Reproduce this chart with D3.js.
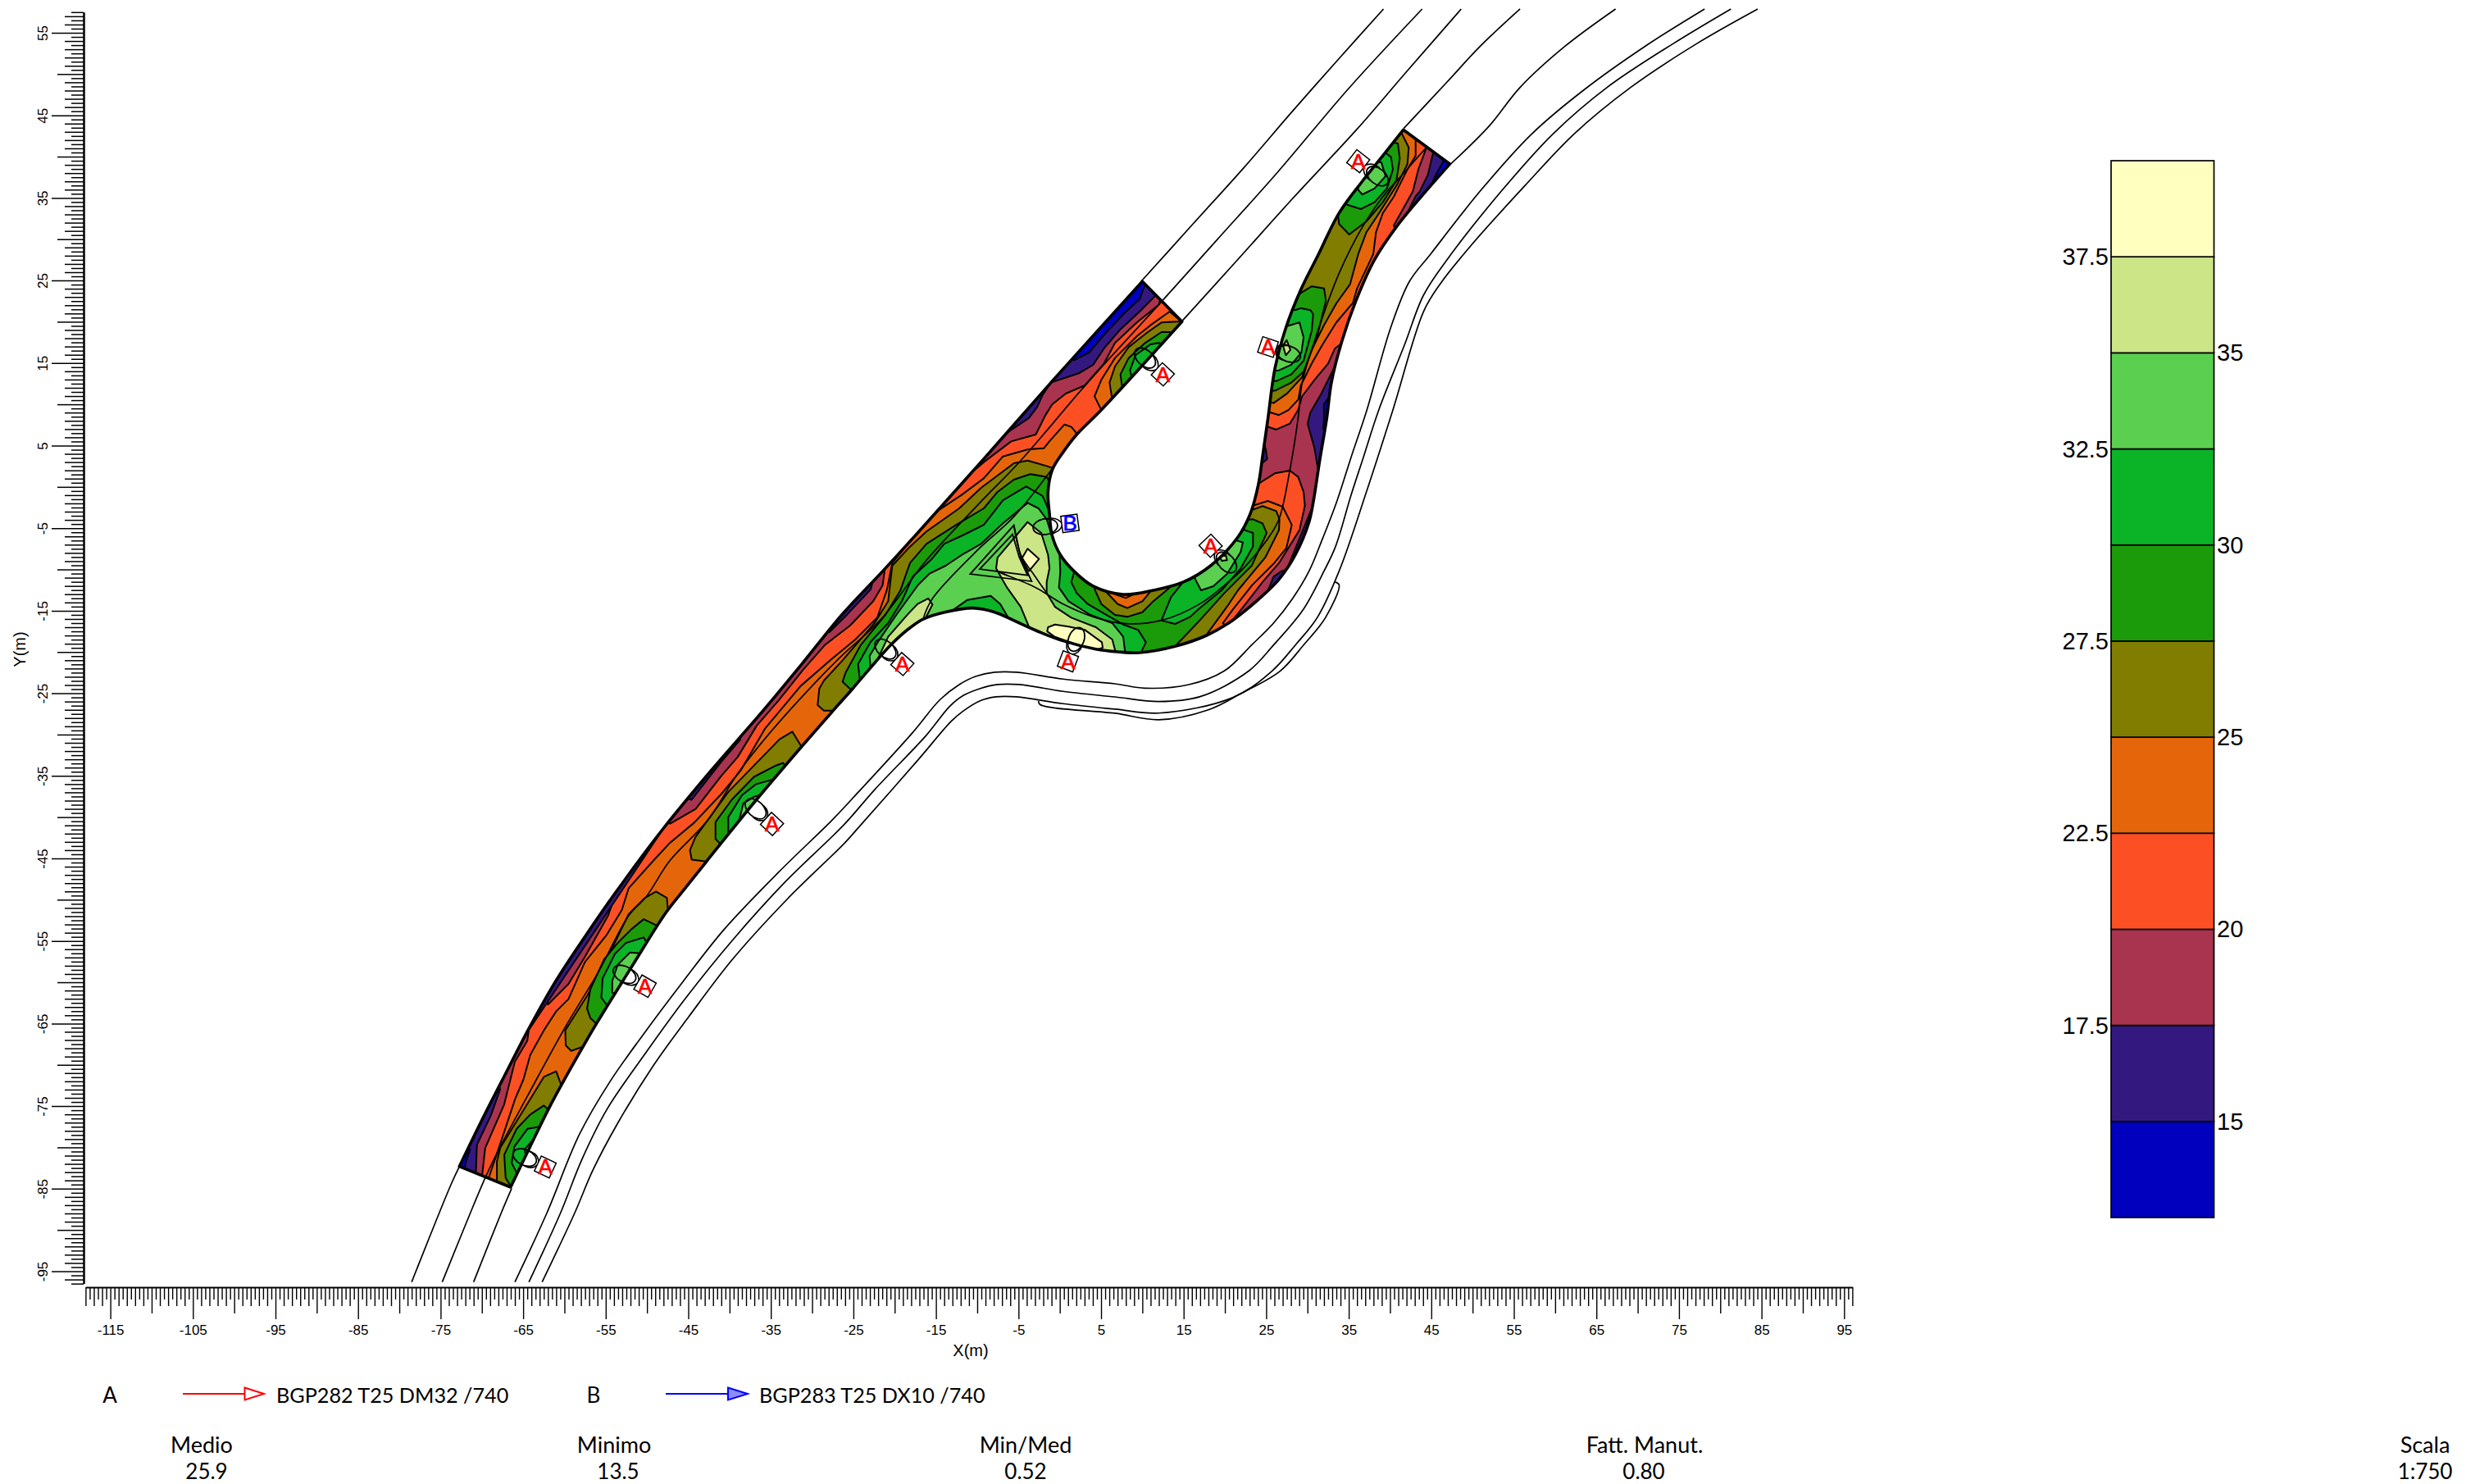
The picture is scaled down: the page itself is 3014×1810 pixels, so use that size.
<!DOCTYPE html>
<html>
<head>
<meta charset="utf-8">
<script src="https://cdn.jsdelivr.net/npm/d3@7/dist/d3.min.js"></script>
<style>
  html, body { margin: 0; padding: 0; background: #fff; }
  svg { display: block; }
</style>
</head>
<body>
<svg id="chart" width="3014" height="1810"></svg>
<script>
// colour scale
const levels = [12.5, 15, 17.5, 20, 22.5, 25, 27.5, 30, 32.5, 35, 37.5, 40];
const colors = ['#0000BE', '#33197F', '#A8344F', '#FC5024', '#E5660A', '#807D00', '#1B9A0A', '#0BB327', '#5ACF50', '#CBE587', '#FFFFC0'];
const leftLabels = [37.5, 32.5, 27.5, 22.5, 17.5];
const rightLabels = [35, 30, 25, 20, 15];

// road surface edges, X(m), Y(m)
const edgeLeft = [[-72.73,-82.31],[-70.1,-76.9],[-67.63,-72.05],[-64.3,-65.6],[-60.98,-59.74],[-57.4,-54.3],[-53.89,-49.25],[-48.12,-41.5],[-42.1,-34.2],[-36.16,-27.37],[-31.2,-21.4],[-26.41,-15.51],[-21.45,-10.21],[-17.15,-5.5],[-9.2,3.4],[-0.92,12.8],[10,24.88]];
const edgeInner = [[14.8,20.01],[5.03,9.32],[2.05,6.34],[0.4,4.19],[-0.92,2.04],[-1.42,-0.61],[-1.25,-3.26],[-0.92,-5.91],[0.07,-8.23],[1.72,-10.21],[4.04,-12.03],[7.68,-13.03],[11.32,-12.53],[14.96,-11.53],[18.27,-9.55],[21.58,-6.07],[23.07,-3.26],[24.07,0.38],[24.56,3.69],[25.22,8.33],[26.05,14.29],[27.38,19.25],[29.2,23.89],[31.18,27.86],[33.83,33.16],[36.48,36.8],[39.13,40.11],[41.61,43.25]];
const edgeOuter = [[47.24,39.11],[43.76,35.14],[40.78,31.5],[38.13,27.53],[35.88,22.56],[34.16,17.6],[32.9,12.63],[32.34,8.33],[31.51,3.36],[30.69,-1.93],[30.19,-4.25],[28.53,-8.22],[26.55,-11.2],[24.56,-13.19],[20.92,-16.17],[17.78,-17.99],[13.97,-19.31],[9.67,-20.08],[7.02,-19.98],[4.37,-19.65],[0.4,-18.65],[-2.25,-17.66],[-5.23,-16.34],[-7.87,-15.18],[-10.52,-14.68],[-13.84,-15.17],[-16.49,-16],[-18.47,-17.32],[-20.46,-19.14],[-23.11,-22.12],[-25.09,-24.44],[-27.29,-26.91],[-31.28,-31.47],[-37,-38.2],[-42.8,-45.38],[-45.2,-48.4],[-47.68,-51.53],[-51.9,-58.2],[-56.1,-64.98],[-59,-70],[-61.87,-75.25],[-64.2,-80],[-66.52,-84.82]];

// lane and kerb lines
const laneLines = [
  [[-78.5,-96.3],[-73.74,-84.5],[-72.75,-82.38]],
  [[-74.8,-96.3],[-71.42,-88],[-69.6,-83.7],[-68.11,-80.56],[-64.47,-73.77],[-59.84,-65.33],[-55.86,-58.71],[-52.22,-51.93],[-50.07,-49.61],[-47.26,-45.3],[-42.62,-40.34],[-38.99,-34.7],[-35.35,-30.07],[-29.06,-23.12],[-26.08,-20.14],[-21.78,-16.17],[-16.15,-8.89],[-9.69,-1.94],[-4.73,3.19],[3.38,12.63],[11.99,22.06],[18.97,29.84],[26.39,38.12],[34.94,48.2],[43.89,57.88]],
  [[-71,-96.3],[-67.68,-88],[-66.39,-84.96]],
  [[-66,-96.3],[-62.15,-88],[-58.18,-78.41],[-54.54,-72.12],[-50.57,-66.49],[-45.6,-59.87],[-40.64,-53.58],[-34.02,-46.63],[-27.56,-40.34],[-24.43,-37],[-17.81,-29.74],[-14.5,-25.76],[-12.18,-23.94],[-10.2,-22.95],[-7.88,-22.45],[-5.23,-22.45],[0.4,-23.28],[6.69,-23.85],[10.33,-24.38],[15.63,-23.95],[19.93,-22.29],[23.24,-19.15],[25.89,-16.5],[28.2,-13.52],[30.19,-10.21],[31.84,-6.24],[33.5,-1.93],[35.32,3.69],[37.2,9.32],[40.07,19.25],[42.35,24.88],[44.91,28.19],[50.9,35.8],[57.17,42.75],[63.44,48.05],[70.86,53.34],[78.1,57.88]],
  [[-64.3,-96.3],[-60.5,-88],[-57.85,-81.39],[-54.87,-75.43],[-50.57,-69.14],[-45.27,-61.86],[-39.64,-54.9],[-33.36,-47.95],[-26.07,-40.84],[-22.44,-36.69],[-16.15,-30.07],[-13.34,-26.59],[-11.69,-25.27],[-9.7,-24.44],[-7.55,-23.94],[-4.9,-23.94],[0.4,-24.77],[6.69,-25.44],[12,-26],[17,-25.4],[22.9,-22.29],[25.9,-19.15],[29.5,-14.84],[32,-10.21],[33.4,-7.23],[35.3,-0.94],[36.81,3.69],[38.64,9.32],[41.78,17.26],[44.06,23.22],[46.91,27.52],[53.47,35.8],[59.74,42.75],[66.29,48.38],[74.28,53.67],[81.29,57.88]],
  [[-62.7,-96.3],[-58.78,-88],[-56.53,-82.71],[-53.55,-77.08],[-49.25,-70.13],[-44.94,-64.17],[-39.64,-57.22],[-33.02,-49.94],[-26.07,-43.15],[-24.43,-41.32],[-17.15,-33.05],[-13.17,-28.41],[-11.85,-27.26],[-9.7,-25.93],[-7.71,-25.43],[-5.23,-25.43],[0.4,-26.26],[6.69,-26.92],[12,-27.4],[21,-25.5],[25.72,-22.29],[28.54,-19.15],[31.18,-15.84],[33.83,-10.21],[37.14,-0.61],[40.35,9.32],[44.06,21.23],[46.05,24.54],[49.76,29.18],[56.32,36.46],[62.3,42.75],[69.14,48.38],[77.13,53.67],[84.54,57.88]],
  [[-2.58,-25.93],[-2.4,-26.36],[6.69,-27.42],[12,-28.2],[18,-27],[22,-25],[26.71,-22.29],[29.53,-19.15],[32.18,-15.84],[33.83,-11.87],[33.33,-11.53]],
  [[9.85,24.88],[16.12,31.83],[22.4,38.78],[28.1,45.4],[33.51,51.52],[39.21,57.88]],
  [[14.81,20.08],[21.25,27.19],[28.1,34.81],[36.08,43.41],[41.78,50.03],[48.62,57.88]],
  [[41.66,43.41],[46.91,49.04],[50.9,53.34],[55.75,57.88]],
  [[47.36,39.11],[52.04,43.74],[55.75,48.38],[61.16,53.34],[67.32,57.88]],
  [[-7.71,-10.15],[-7.21,-10.38],[-2.91,-12.2],[0.4,-14.19],[4.37,-15.84],[8.01,-16.57],[12.32,-16.17],[16.95,-14.18],[20.59,-11.37],[21.91,-10.21],[25.22,-6.24],[26.55,-3.92],[27.87,2.04],[28.87,8.33],[29.36,12.63],[30.52,16.61],[32.18,21.57],[33.83,25.87],[36.48,31.17],[39.13,35.14],[41.77,38.12],[44.42,41.1],[50.33,47.05],[55.46,52.68],[61.28,57.88]],
  [[-0.92,2.2],[-5.56,-3.6],[-9.86,-7.56],[-15.42,-13.52],[-16.49,-15.8]],
  [[-5.56,-4.65],[-4.73,-8.23],[-3.08,-10.71],[-1.59,-12.86]]
];
const islandOuter = [[-5.56,-4.65],[-10.85,-10.55],[-3.41,-11.44],[-4.73,-8.56]];
const islandInner = [[-5.72,-5.75],[-9.7,-9.95],[-3.9,-10.71],[-4.9,-8.56]];

// isolux regions below 20 lx, painted over the base colour
const maroon = [
  [[-70.2,-88],[-70,-83.7],[-69.6,-80.1],[-67.3,-74.8],[-66,-69.6],[-64.5,-67.1],[-64.1,-64.2],[-62.3,-61.2],[-62,-62.7],[-59.5,-60.2],[-57.5,-56.9],[-54.7,-51.9],[-54,-49.9],[-54.4,-49.2],[-47.6,-40.6],[-47.2,-40.8],[-44.1,-39],[-41,-35],[-39,-32.7],[-36.7,-28.9],[-34,-25.8],[-31.05,-22.1],[-28.4,-19.1],[-25.4,-16.8],[-22.6,-13.85],[-21.45,-11.9],[-21.2,-10],[-21.7,-9.6],[-11.3,1.8],[-10.6,1.8],[-9.2,3],[-5.89,5.51],[-2.91,6.34],[-1.75,8.66],[-0.92,9.98],[0.73,11.3],[3.05,12.3],[5.36,14.95],[6.69,17.43],[9.34,19.91],[11.99,22.06],[13,25],[10,30],[-60,-30],[-80,-85],[-80,-88]],
  [[44.5,43],[44.42,41.1],[43.43,38.45],[42.77,35.8],[41.11,32.83],[40.45,31.67],[40.8,30.8],[34.3,17.5],[33.33,16.77],[32.51,14.95],[30.85,12.96],[29.36,10.98],[28.87,9.32],[27.87,7.66],[26.22,6.94],[25.06,7.33],[24,7.3],[23.3,0.4],[24.07,0.38],[26.05,1.64],[27.87,1.97],[28.87,1.21],[29.53,-0.61],[29.69,-2.27],[29.03,-5.24],[26.55,-9.22],[24.56,-11.53],[22.25,-14.51],[20.92,-16.17],[21,-18],[35,-10],[36,10],[48,35],[50,42]]
];
const indigo = [
  [[-70.9,-88],[-70.8,-85],[-70.6,-79.7],[-68.9,-76.1],[-67.8,-73],[-68,-71.3],[-45.5,-37.6],[-44.6,-37.9],[-41,-33.3],[-38.7,-30.6],[-38.6,-29.4],[-28.5,-17.3],[-27.9,-17.6],[-25.8,-15.5],[-22.9,-12.4],[-22.7,-11.6],[-7,6.5],[-6.22,6.67],[-3.74,8.33],[-2.75,9.65],[-2.08,11.14],[-1.09,12.63],[2.39,13.79],[4.04,14.78],[5.36,16.77],[7.35,19.08],[9.67,21.23],[11.49,23.06],[12.5,25],[10,30],[-60,-30],[-80,-85],[-80,-88]],
  [[46,42],[45.25,40.6],[44.59,37.79],[43.6,35.8],[43.1,35.2],[42.5,34],[34,14.9],[33.33,14.62],[31.68,11.31],[30.35,8.99],[30.02,7.66],[30.85,4.69],[31.18,2.7],[31.35,1.71],[32,1],[27.5,-10],[26.88,-10.21],[25.89,-10.87],[25.22,-12.53],[24.8,-12.86],[26,-14],[35,-8],[36,10],[48,35]],
  [[24.5,2.87],[25.12,3.36],[24.96,4.52],[24.7,5.35],[24,5]]
];
const blue = [
  [[-72.6,-85],[-72.15,-83],[-71.92,-81.72],[-71.42,-80.23],[-72.2,-80],[-74,-82]],
  [[1.2,15.8],[1.72,15.34],[3.54,16.27],[5.36,18.42],[8.01,21.23],[9.67,22.72],[10.33,24.54],[10.3,27],[0,20]],
  [[46.8,40.5],[46.41,39.35],[45.4,37.5],[45.2,37],[47,36.5],[49,39]],
  [[31.9,7],[32,8.3],[32,10],[32.7,11],[33.5,11],[33.5,7]]
];

// isolux regions from 22.5 lx up
const orange = [
  [[-69.2,-88],[-69.17,-83.7],[-67.28,-78.08],[-65.96,-74.1],[-64.97,-71.79],[-64.14,-68.81],[-62.49,-65.83],[-60.99,-63.51],[-59.5,-62.02],[-57.52,-57.55],[-54.87,-54.24],[-53.05,-51.26],[-52.22,-48.62],[-49.25,-45.3],[-47.26,-43.15],[-44.28,-40.67],[-40.98,-37.18],[-38.66,-34.37],[-35.68,-29.24],[-31.38,-24.11],[-27.57,-20.8],[-24.76,-18.48],[-22.11,-15.83],[-20.95,-12.52],[-20.29,-9.21],[-15.32,-3.26],[-11.85,-0.95],[-9.2,1.04],[-6.88,3.69],[-3.9,4.52],[-1.92,4.68],[-1.26,5.51],[0.57,7.56],[1.39,7.27],[1.89,6.67],[2.22,6],[3,5],[0,2],[5,-10],[6.69,-13],[8.01,-13.46],[9.34,-12.8],[11,-11.5],[20,-3],[23.4,-2.27],[25.2,-1.7],[27,-2.4],[28.1,-4.6],[27.45,-7.4],[26,-9.2],[23.3,-11.9],[21,-14.8],[19.76,-16.5],[22,-19],[10,-24],[-25,-30],[-62,-88]],
  [[40,45],[43.1,42.26],[43.1,40.1],[42.1,38.45],[40.45,35.14],[39.13,33.16],[38.3,30.84],[37.97,28.2],[36,24],[35.49,22.23],[35.16,21.9],[33.5,19.92],[31.84,17.27],[30.52,14.95],[29.2,12.3],[28.9,10.6],[27.7,9.3],[26.55,8.7],[25.56,9],[24.5,9.3],[24,20],[33,35]],
  [[5.03,9.32],[4.21,10.97],[5.03,12.96],[6.69,15.61],[9.34,18.26],[10.99,19.58],[13.31,21.23],[14.47,20.24],[16,21],[8,8]]
];
const olive = [
  [[-68.18,-88],[-68.18,-81.72],[-67.78,-80.06],[-65.13,-75.76],[-62.49,-71.46],[-61,-70.79],[-60.33,-72.61],[-58,-74],[-62,-88]],
  [[-57.35,-67.65],[-59.18,-68.31],[-59.84,-67.65],[-59.9,-65.83],[-57.19,-61.53],[-55.2,-57.88],[-52.22,-51.76],[-50.24,-49.77],[-48.91,-49.01],[-47.59,-49.77],[-47.42,-51.76],[-46,-52],[-55,-68],[-57.2,-68.5]],
  [[-42.8,-45.38],[-44.58,-45.15],[-44.8,-44.01],[-44.13,-42.41],[-40.15,-36.94],[-33.94,-30.56],[-32.39,-29.65],[-31.28,-31.47],[-30,-32],[-40,-47],[-42.8,-46.5]],
  [[-27.24,-27.09],[-28.57,-27.09],[-29.33,-26.43],[-29.13,-24.44],[-28.57,-23.45],[-26.42,-21.13],[-22.44,-16.5],[-20.79,-13.85],[-20.29,-9.55],[-18.14,-7.23],[-16.15,-5.4],[-12.18,-2.6],[-9.53,-0.12],[-5.56,2.86],[-3.9,3.19],[-1.59,2.53],[-0.66,2.2],[3,0],[5,-10],[5.37,-12.46],[7.02,-14.19],[8.18,-14.68],[10,-13.86],[10.83,-12.86],[12,-11],[20,-3],[23.4,-2.76],[24.56,-2.33],[26.22,-2.93],[26.61,-3.92],[26.55,-5.24],[24.89,-8.55],[21.58,-12.53],[20.26,-14.51],[17.78,-17.89],[18,-20],[5,-25],[-25,-30],[-27.24,-28]],
  [[6.29,10.97],[6.03,12.63],[6.69,14.61],[8.34,16.93],[10.66,18.75],[12.32,19.91],[14.3,20.01],[16,20.5],[7,9]],
  [[41.28,43.09],[42.27,41.1],[42.11,39.1],[40.78,36.47],[38.46,32.83],[37.14,30.84],[36.15,28.19],[35.16,24.55],[33.5,22.23],[32.01,19.59],[30.19,15.94],[29.36,13.3],[27.54,11.31],[25.89,10.15],[25.39,10.32],[24.5,10.3],[24,20],[33,35],[40,45]]
];
const darkGreen = [
  [[-66.5,-84.7],[-67.12,-83.7],[-67.29,-80.89],[-65.79,-77.75],[-64.14,-76.02],[-62.49,-74.93],[-61.76,-75.59],[-59,-78],[-64,-88],[-66,-86.5]],
  [[-56.03,-65.1],[-56.86,-64.34],[-57.26,-63.18],[-56.86,-60.86],[-55.2,-57.22],[-53.55,-55.24],[-51.89,-53.58],[-50.4,-52.36],[-48.91,-53.08],[-48.85,-53.75],[-47,-55],[-53,-66]],
  [[-41.03,-43.33],[-41.7,-42.64],[-41.7,-40.59],[-39.7,-37.85],[-37.04,-35.12],[-34.38,-33.75],[-33.5,-33.43],[-33.19,-33.98],[-31,-36],[-39,-45]],
  [[-25.26,-24.6],[-26.32,-23.61],[-25.92,-22.45],[-24.1,-19.14],[-21.12,-15.5],[-19.3,-12.52],[-18.14,-9.21],[-16.15,-6.9],[-12.51,-4.58],[-9.2,-2.6],[-7.54,-0.61],[-5.56,0.88],[-3.57,1.54],[-1.59,1.21],[-1.02,0.22],[3,0],[4.21,-12.37],[5.03,-14.19],[6.69,-15.51],[8.18,-15.74],[10,-15.18],[11.32,-13.86],[13.31,-12.2],[14,-10],[20,-3],[22.25,-4.02],[23.4,-3.92],[24.56,-4.42],[25.06,-5.58],[23.24,-9.55],[19.93,-12.86],[16.95,-16.17],[13.97,-19.31],[14,-21],[0,-25],[-25,-30],[-25.5,-26]],
  [[7.52,12.3],[7.35,13.62],[8.34,15.61],[10.33,17.43],[12.32,18.75],[13.31,18.75],[15,18],[9,11]],
  [[33.67,33.16],[33.83,31.83],[35.06,30.57],[37.14,32.16],[39.13,34.48],[40.78,37.13],[41.18,39.78],[40.95,41.6],[40.12,41.76],[38,42],[32,34]],
  [[26.05,11.64],[28.04,12.63],[29.53,13.96],[31.18,18.26],[32.24,22.56],[32.01,24.05],[30.52,24.29],[29.03,23.39],[27,24],[25,15],[25,11.6]]
];
const green = [
  [[-65.63,-83.37],[-66.39,-81.88],[-66.06,-79.9],[-64.47,-77.75],[-62.82,-77.48],[-61,-78],[-64,-85]],
  [[-54.54,-63.18],[-55.53,-61.86],[-55.37,-59.54],[-53.88,-56.56],[-52.55,-55.24],[-50.4,-54.57],[-49.84,-55.57],[-48,-57],[-52,-64]],
  [[-40.15,-41.99],[-40.15,-40],[-38.5,-37.35],[-36.84,-36.03],[-34.69,-35.43],[-33,-36],[-38,-43]],
  [[-24.26,-22.95],[-24.43,-21.46],[-22.94,-18.81],[-20.79,-16.5],[-19.13,-13.85],[-17.81,-10.87],[-15.49,-8.72],[-14,-6.9],[-11.52,-5.75],[-9.2,-4.59],[-6.88,-1.61],[-4.07,0.05],[-2.08,-1.11],[-1.42,-2.6],[3,0],[1.5,-9.5],[1.72,-10.38],[1.39,-11.54],[2.05,-12.86],[3.38,-14.19],[5.37,-15.34],[7.68,-16.67],[9.5,-17.33],[10.43,-18.82],[9.83,-20.08],[9.8,-22],[0,-24],[-24,-27]],
  [[14.8,-11.7],[13.47,-13.36],[12.32,-16.17],[13.97,-16.6],[15.79,-15.74],[16.95,-14.68],[19.6,-12.53],[21.91,-9.88],[23.4,-7.23],[23.4,-5.58],[22.41,-5.24],[21,-4],[14,-10]],
  [[8.67,13.46],[8.51,14.12],[9.17,15.94],[10.99,17.26],[11.99,17.43],[14,17],[10,12]],
  [[34.89,34.15],[36.48,33.65],[38.13,34.48],[39.62,36.14],[40.35,38.45],[40.12,39.94],[39.29,40.6],[38.8,40.27],[36,40],[33,35]],
  [[26.22,12.8],[28.04,13.63],[29.53,15.28],[30.52,18.92],[30.69,20.91],[30.36,21.41],[29.2,21.64],[28.53,21.41],[26,22],[25,13]]
];
const lightGreen = [
  [[-64.64,-81.22],[-64.8,-80.24],[-63.97,-79.24],[-63.6,-79.74]],
  [[-54.21,-61.26],[-54.21,-59.87],[-53.55,-57.88],[-52.06,-56.39],[-50.73,-56.49],[-49,-57],[-52,-62]],
  [[-38.83,-40.33],[-38.33,-38.34],[-37,-37.52],[-35.85,-37.19],[-34.5,-38],[-38,-42]],
  [[-22.94,-21.73],[-23.04,-20.47],[-21.95,-18.65],[-19.8,-15.5],[-17.15,-11.86],[-15.82,-10.54],[-13.83,-9.55],[-11.85,-8.23],[-9.53,-6.9],[-6.88,-4.42],[-3.9,-1.94],[-2.58,-2.6],[-1.59,-3.92],[-0.86,-6.24],[-0.03,-8.23],[0.07,-10.21],[-0.1,-12.2],[1.06,-13.86],[3.71,-15.51],[6.36,-16.5],[7.68,-18.16],[7.91,-19.98],[8,-22],[-4,-20],[-6,-17.5],[-6.05,-16.17],[-7.21,-14.19],[-8.37,-13.19],[-11.18,-13.69],[-12.84,-14.85],[-13,-16.5],[-20,-20.5],[-22.94,-23]],
  [[16.45,-11.27],[17.11,-12.53],[18.6,-12.03],[20.26,-10.54],[21.91,-7.89],[22.18,-6.73],[21.42,-6.5],[20,-6],[16,-10]],
  [[36.15,35.97],[36.64,35.41],[38.13,36.14],[39.46,37.63],[38.96,39.28],[38.3,39.45],[36,38]],
  [[27.38,19.42],[29.03,19.92],[29.53,18.1],[29.26,16.27],[28.04,14.79],[26.55,14.12],[25,14],[26,20]]
];
const pale = [
  [[-21.95,-20.63],[-20.79,-18.15],[-18.47,-15.5],[-17.22,-14.18],[-15.92,-13.52],[-15.42,-14.25],[-16.32,-16],[-17,-18],[-21,-21.5]],
  [[-3.64,-17.17],[-4.73,-14.52],[-6.39,-12.2],[-7.71,-9.88],[-7.54,-8.56],[-3.9,-4.26],[-2.25,-5.58],[-1.42,-8.23],[-1.25,-9.88],[-1.59,-11.54],[-1.59,-12.86],[-0.59,-14.52],[1.39,-15.84],[4.37,-17],[6.36,-18.49],[6.69,-19.75],[6.7,-22],[-3.6,-19]],
  [[19.43,-8.55],[20.09,-8.22],[20.26,-8.89],[19.6,-8.95]],
  [[27.48,17.77],[27.94,16.6],[27.38,15.94],[27.04,17.1]]
];
const cream = [
  [[-1.42,-17],[-0.59,-16.67],[1.06,-16.93],[3.05,-17.33],[5.1,-18.82],[5.2,-19.48],[4.37,-19.75],[1.72,-18.99],[-0.59,-18.16],[-1.52,-17.5]],
  [[-3.9,-7.5],[-2.51,-8.72],[-3.74,-10.21],[-4.63,-8.72]]
];

// luminaires: aiming point and mounting position
const lampLabels = ['A', 'A', 'A', 'A', 'A', 'B', 'A', 'A', 'A', 'A'];
const lampX = [-62.32, -50.24, -34.86, -19.07, 0.99, 1.23, 12.48, 18.27, 25.22, 36.15];
const lampY = [-82.38, -60.47, -40.83, -21.46, -21.13, -4.42, 13.62, -7.13, 16.94, 39.45];
const beamX = [-64.8, -52.72, -36.84, -21.12, 1.99, -1.75, 10.33, 20.19, 27.71, 38.47];
const beamY = [-81.22, -59.04, -39, -19.64, -18.48, -4.82, 15.61, -9.15, 16.11, 37.63];

// footer
const legendNames = ['BGP282 T25 DM32 /740', 'BGP283 T25 DX10 /740'];
const summaryNames = ['Medio', 'Minimo', 'Min/Med', 'Fatt. Manut.', 'Scala'];
const summaryValues = ['25.9', '13.5', '0.52', '0.80', '1:750'];
const summaryPos = [246, 749, 1251, 2006, 2958];
const valuePos = [252, 754, 1251, 2005, 2958];

const svg = d3.select('#chart');
const x = d3.scaleLinear().domain([-118, 96]).range([104.4, 2259.4]);
const y = d3.scaleLinear().domain([57.5, -96.5]).range([14.8, 1565.6]);
const line = d3.line().x(d => x(d[0])).y(d => y(d[1]));
const smooth = d3.line().x(d => x(d[0])).y(d => y(d[1])).curve(d3.curveCatmullRom.alpha(0.5));
const closed = pts => line(pts) + 'Z';
const roadPath = smooth(edgeLeft) + 'L' + smooth(edgeInner).slice(1) + 'L' + smooth(edgeOuter).slice(1) + 'Z';

// lane lines first, the road surface sits on top of the outer ones
const map = svg.append('g');
map.append('g').selectAll('path').data(laneLines.slice(0, 11)).join('path')
  .attr('d', smooth).attr('fill', 'none').attr('stroke', '#000').attr('stroke-width', 1.7);

svg.append('clipPath').attr('id', 'road').append('path').attr('d', roadPath);
const surface = map.append('g').attr('clip-path', 'url(#road)');
surface.append('path').attr('d', roadPath).attr('fill', colors[3]);

// low regions go darkest last, high regions brightest last
const layers = [
  [maroon, colors[2]], [indigo, colors[1]], [blue, colors[0]],
  [orange, colors[4]], [olive, colors[5]], [darkGreen, colors[6]], [green, colors[7]],
  [lightGreen, colors[8]], [pale, colors[9]], [cream, colors[10]]
];
layers.forEach(([polys, fill]) => {
  surface.append('g').selectAll('path').data(polys).join('path')
    .attr('d', closed).attr('fill', fill)
    .attr('stroke', '#000').attr('stroke-width', 2).attr('stroke-linejoin', 'round');
});

// markings that run over the surface
surface.append('g').selectAll('path').data(laneLines).join('path')
  .attr('d', smooth).attr('fill', 'none').attr('stroke', '#000').attr('stroke-width', 1.7);
surface.append('g').selectAll('path').data([islandOuter, islandInner]).join('path')
  .attr('d', closed).attr('fill', 'none').attr('stroke', '#000').attr('stroke-width', 1.8);

map.append('path').attr('d', roadPath).attr('fill', 'none')
  .attr('stroke', '#000').attr('stroke-width', 3.6).attr('stroke-linejoin', 'round');

// luminaires
lampX.forEach((lx, i) => {
  const px = x(lx), py = y(lampY[i]), bx = x(beamX[i]), by = y(beamY[i]);
  const ang = Math.atan2(py - by, px - bx) * 180 / Math.PI;
  const ink = lampLabels[i] === 'A' ? '#f00' : '#00f';
  map.append('ellipse').attr('transform', `translate(${bx},${by}) rotate(${ang})`)
    .attr('rx', 15).attr('ry', 9.5).attr('fill', 'none').attr('stroke', '#000').attr('stroke-width', 1.8);
  const r = Math.hypot(px - bx, py - by);
  const tail = map.append('g').attr('transform', `translate(${bx},${by}) rotate(${ang})`);
  tail.append('path').attr('d', `M4,9.5 Q${r * 0.55},10 ${r - 9},0 M4,-9.5 Q${r * 0.55},-10 ${r - 9},0`)
    .attr('fill', 'none').attr('stroke', '#000').attr('stroke-width', 1.6);
  const head = map.append('g').attr('transform', `translate(${px},${py})`);
  head.append('rect').attr('x', -10).attr('y', -10).attr('width', 20).attr('height', 20)
    .attr('transform', `rotate(${ang})`).attr('fill', '#fff').attr('stroke', '#000').attr('stroke-width', 1.5);
  head.append('text').attr('text-anchor', 'middle').attr('dy', 9)
    .attr('font-family', 'Liberation Sans').attr('font-size', 26)
    .attr('fill', ink).attr('stroke', ink).attr('stroke-width', 0.7)
    .text(lampLabels[i]);
});

// rulers
function tickLen(v) {
  const t = Math.round(v * 2);
  if ((t + 10) % 20 === 0) return 39;
  if (t % 10 === 0) return 32;
  if (t % 2 === 0) return 23;
  return 15;
}
const xTicks = d3.range(-118, 96.25, 0.5);
const yTicks = d3.range(-96.5, 57.75, 0.5);
const labelled = v => Math.abs(Math.round(v * 2) % 20) === 10;

const xAxis = svg.append('g').attr('transform', 'translate(0,1570)')
  .call(d3.axisBottom(x).tickValues(xTicks).tickSize(0).tickSizeOuter(0).tickFormat(v => labelled(v) ? v : ''));
xAxis.selectAll('.tick line').attr('y2', tickLen).attr('stroke-width', 1.4);
xAxis.selectAll('.tick text').attr('y', 58).attr('dy', 0)
  .attr('font-family', 'Liberation Sans').attr('font-size', 17);
xAxis.select('.domain').attr('stroke-width', 2);

const yAxis = svg.append('g').attr('transform', 'translate(102,0)')
  .call(d3.axisLeft(y).tickValues(yTicks).tickSize(0).tickSizeOuter(0).tickFormat(v => labelled(v) ? v : ''));
yAxis.selectAll('.tick line').attr('x2', v => -tickLen(v)).attr('stroke-width', 1.5);
yAxis.selectAll('.tick text').attr('x', 0).attr('dy', 0)
  .attr('text-anchor', 'middle')
  .attr('transform', 'translate(-44,0) rotate(-90)')
  .attr('font-family', 'Liberation Sans').attr('font-size', 17);
yAxis.select('.domain').attr('stroke-width', 2.5);

svg.append('text').attr('x', 1184).attr('y', 1654).attr('text-anchor', 'middle')
  .attr('font-family', 'Liberation Sans').attr('font-size', 20).text('X(m)');
svg.append('text').attr('transform', 'translate(31,792) rotate(-90)').attr('text-anchor', 'middle')
  .attr('font-family', 'Liberation Sans').attr('font-size', 20).text('Y(m)');

// colour bar
const barScale = d3.scaleLinear().domain([40, 12.5]).range([196, 1485]);
svg.append('g').selectAll('rect').data(colors).join('rect')
  .attr('x', 2575).attr('width', 125.5)
  .attr('y', (c, i) => barScale(levels[i + 1]))
  .attr('height', (c, i) => barScale(levels[i]) - barScale(levels[i + 1]))
  .attr('fill', d => d).attr('stroke', '#000').attr('stroke-width', 1.7);
svg.append('g').selectAll('text').data(leftLabels).join('text')
  .attr('x', 2572).attr('y', d => barScale(d) + 10).attr('text-anchor', 'end')
  .attr('font-family', 'Liberation Sans').attr('font-size', 29).text(d => d);
svg.append('g').selectAll('text').data(rightLabels).join('text')
  .attr('x', 2704).attr('y', d => barScale(d) + 10)
  .attr('font-family', 'Liberation Sans').attr('font-size', 29).text(d => d);

// lamp legend
const footFont = 'Lato';
[['A', 134, 223, 298.5, 322, 337, '#f00'], ['B', 724, 812, 888, 912, 926, '#00f']].forEach((r, i) => {
  svg.append('text').attr('x', r[1]).attr('y', 1711).attr('text-anchor', 'middle')
    .attr('font-family', footFont).attr('font-size', 26).text(r[0]);
  svg.append('line').attr('x1', r[2]).attr('x2', r[3]).attr('y1', 1700).attr('y2', 1700)
    .attr('stroke', r[6]).attr('stroke-width', 2);
  svg.append('path').attr('d', `M${r[3]},1692.5 L${r[4]},1700 L${r[3]},1707.5 Z`)
    .attr('fill', i ? '#00f' : '#fff').attr('fill-opacity', i ? 0.45 : 1)
    .attr('stroke', r[6]).attr('stroke-width', 2);
  svg.append('text').attr('x', r[5]).attr('y', 1711)
    .attr('font-family', footFont).attr('font-size', 25.2).text(legendNames[i]);
});

svg.append('g').selectAll('text').data(summaryNames).join('text')
  .attr('x', (d, i) => summaryPos[i]).attr('y', 1772).attr('text-anchor', 'middle')
  .attr('font-family', footFont).attr('font-size', 27).text(d => d);
svg.append('g').selectAll('text').data(summaryValues).join('text')
  .attr('x', (d, i) => valuePos[i]).attr('y', 1804).attr('text-anchor', 'middle')
  .attr('font-family', footFont).attr('font-size', 26).text(d => d);
</script>
</body>
</html>
